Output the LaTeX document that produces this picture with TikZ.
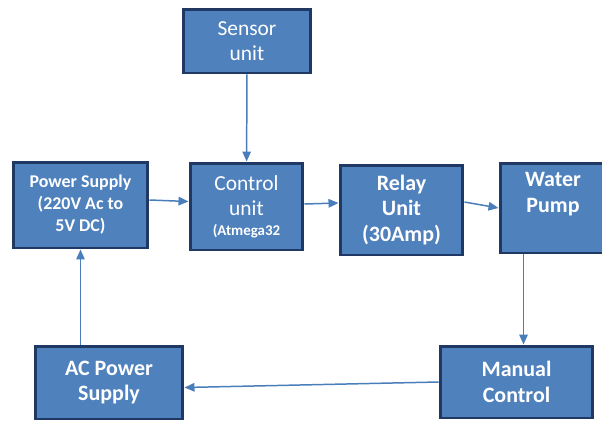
\documentclass[tikz,border=0pt]{standalone}
\usepackage{fontspec}
\setmainfont{Carlito}
\usetikzlibrary{arrows.meta}
\definecolor{boxfill}{HTML}{4F81BD}
\definecolor{boxedge}{HTML}{1F3864}
\definecolor{wire}{HTML}{4A7EBB}
\newcommand{\bx}[2]{\fontsize{#1}{#2}\selectfont\bfseries}

\begin{document}
\begin{tikzpicture}[x=0.02cm,y=-0.02cm,
   block/.style={draw=boxedge,fill=boxfill,line width=1.7pt,text=white,
      align=center,inner sep=0pt,font=\fontsize{12.2}{14.4}\selectfont},
   bold/.style={font=\bx{12.5}{14.6}},
   arr/.style={draw=wire,line width=0.85pt,-{Triangle[length=2mm,width=1.7mm]}}]
   \useasboundingbox (0,0) rectangle (602,420);
   \clip (0,0) rectangle (602,420);
   % blocks
   \node[block,minimum width=2.56cm,minimum height=1.28cm] (sensor) at (247,41)
      {Sensor\\unit};
   \node[block,font=\bx{10.2}{12.5},minimum width=2.70cm,minimum height=1.72cm]
      (supply) at (80.5,205) {Power Supply\\(220V Ac to\\5V DC)};
   \node[block,minimum width=2.26cm,minimum height=1.74cm] (control) at (246.5,206.5)
      {Control\\unit\\[-3pt]{\bx{8.5}{10}(Atmega32}};
   \node[block,bold,minimum width=2.46cm,minimum height=1.80cm] (relay) at (401.5,210)
      {Relay\\Unit\\(30Amp)};
   \node[block,bold,minimum width=2.12cm,minimum height=1.80cm] (pump) at (553,208)
      {Water\\Pump\\[3pt]};
   \node[block,bold,minimum width=3.06cm,minimum height=1.44cm] (manual) at (516.5,382)
      {Manual\\Control};
   \node[block,bold,minimum width=2.96cm,minimum height=1.46cm] (ac) at (109,382.5)
      {AC Power\\Supply};
   % connections
   \draw[arr] (sensor) -- (control);
   \draw[arr] ([yshift=0.1cm]supply.east) -- ([yshift=0.1cm]control.west);
   \draw[arr] ([yshift=0.05cm]control.east) -- ([yshift=0.14cm]relay.west);
   \draw[arr] ([yshift=0.16cm]relay.east) -- (pump.west);
   \draw[arr] ([xshift=0.5cm]pump.south west) -- ([xshift=0.5cm]pump.south west |- manual.north);
   \draw[arr] (manual.west) -- ([yshift=-0.1cm]ac.east);
   \draw[arr] (supply.south |- ac.north) -- (supply.south);
\end{tikzpicture}
\end{document}
